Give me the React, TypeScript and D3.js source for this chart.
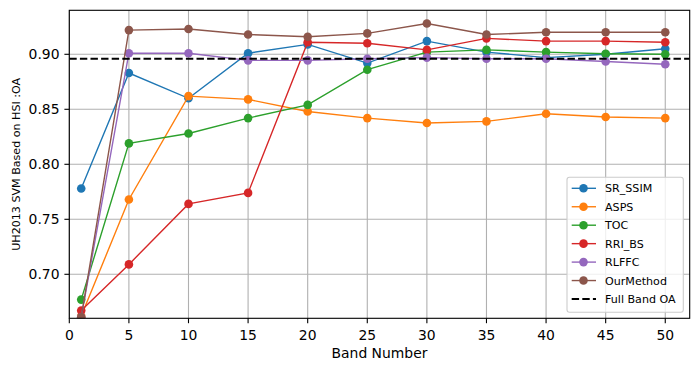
import React from "react";
import * as d3 from "d3";

const bands = [1, 5, 10, 15, 20, 25, 30, 35, 40, 45, 50];
const srSsim = [0.778, 0.883, 0.86, 0.901, 0.909, 0.892, 0.912, 0.902, 0.897, 0.9, 0.905];
const asps = [0.662, 0.768, 0.862, 0.859, 0.848, 0.842, 0.8375, 0.839, 0.846, 0.843, 0.842];
const toc = [0.677, 0.819, 0.828, 0.842, 0.854, 0.886, 0.902, 0.904, 0.902, 0.9005, 0.9];
const rriBs = [0.667, 0.709, 0.764, 0.774, 0.911, 0.91, 0.904, 0.9145, 0.912, 0.912, 0.911];
const rlffc = [0.661, 0.901, 0.901, 0.8945, 0.8945, 0.896, 0.897, 0.896, 0.896, 0.8935, 0.891];
const ourMethod = [0.661, 0.922, 0.923, 0.918, 0.916, 0.919, 0.928, 0.918, 0.92, 0.92, 0.92];
const fullBandOA = 0.896;

const seriesNames = ["SR_SSIM", "ASPS", "TOC", "RRI_BS", "RLFFC", "OurMethod"];
const seriesValues = [srSsim, asps, toc, rriBs, rlffc, ourMethod];
const colors = ["#1f77b4", "#ff7f0e", "#2ca02c", "#d62728", "#9467bd", "#8c564b"];

const xTicks = [0, 5, 10, 15, 20, 25, 30, 35, 40, 45, 50];
const yTicks = [0.7, 0.75, 0.8, 0.85, 0.9];

const W = 699;
const H = 371;
const left = 69.3;
const right = 689.7;
const top = 10.3;
const bottom = 318.3;
const font = "DejaVu Sans, sans-serif";

const App = () => {
  const x = d3.scaleLinear().domain([0, 52.05]).range([left, right]);
  const y = d3.scaleLinear().domain([0.66, 0.94]).range([bottom, top]);
  const line = d3
    .line<number>()
    .x((_, i) => x(bands[i]))
    .y((d) => y(d));

  // legend box
  const legX = 567;
  const legY = 177.3;
  const rowH = 18.45;
  const firstRow = 188.3;

  return (
    <svg
      width={W}
      height={H}
      style={{ position: "absolute", left: 0, top: 0, background: "#fff" }}
      fontFamily={font}
    >
      <defs>
        <clipPath id="plot">
          <rect x={left} y={top} width={right - left} height={bottom - top} />
        </clipPath>
      </defs>

      {/* grid */}
      <g stroke="#b0b0b0" strokeWidth={1.1}>
        {xTicks.map((t) => (
          <line key={"gx" + t} x1={x(t)} x2={x(t)} y1={top} y2={bottom} />
        ))}
        {yTicks.map((t) => (
          <line key={"gy" + t} x1={left} x2={right} y1={y(t)} y2={y(t)} />
        ))}
      </g>

      {/* series */}
      <g clipPath="url(#plot)">
        {seriesValues.map((vals, s) => (
          <g key={seriesNames[s]}>
            <path d={line(vals) ?? ""} fill="none" stroke={colors[s]} strokeWidth={1.4} />
            {vals.map((v, i) => (
              <circle key={i} cx={x(bands[i])} cy={y(v)} r={4.3} fill={colors[s]} />
            ))}
          </g>
        ))}
        <line
          x1={left}
          x2={right}
          y1={y(fullBandOA)}
          y2={y(fullBandOA)}
          stroke="#000"
          strokeWidth={2}
          strokeDasharray="7.4,3.2"
        />
      </g>

      {/* spines */}
      <rect
        x={left}
        y={top}
        width={right - left}
        height={bottom - top}
        fill="none"
        stroke="#000"
        strokeWidth={1.1}
      />

      {/* x axis */}
      <g>
        {xTicks.map((t) => (
          <g key={"xt" + t}>
            <line x1={x(t)} x2={x(t)} y1={bottom} y2={bottom + 4.9} stroke="#000" strokeWidth={1.1} />
            <text x={x(t)} y={339.5} fontSize={13.9} textAnchor="middle" fill="#000">
              {t}
            </text>
          </g>
        ))}
        <text x={(left + right) / 2} y={358} fontSize={13.9} textAnchor="middle" fill="#000">
          Band Number
        </text>
      </g>

      {/* y axis */}
      <g>
        {yTicks.map((t) => (
          <g key={"yt" + t}>
            <line x1={left - 4.9} x2={left} y1={y(t)} y2={y(t)} stroke="#000" strokeWidth={1.1} />
            <text
              x={59.5}
              y={y(t)}
              dy="0.36em"
              fontSize={13.9}
              textAnchor="end"
              fill="#000"
            >
              {d3.format(".2f")(t)}
            </text>
          </g>
        ))}
        <text
          transform={`translate(19.5,${(top + bottom) / 2}) rotate(-90)`}
          fontSize={11.1}
          textAnchor="middle"
          fill="#000"
        >
          UH2013 SVM Based on HSI :OA
        </text>
      </g>

      {/* legend */}
      <g>
        <rect
          x={legX}
          y={legY}
          width={116.3}
          height={135}
          rx={2.5}
          fill="#fff"
          fillOpacity={0.8}
          stroke="#cccccc"
          strokeWidth={1.1}
        />
        {seriesNames.map((name, s) => {
          const cy = firstRow + s * rowH;
          return (
            <g key={"leg" + name}>
              <line x1={571.7} x2={596} y1={cy} y2={cy} stroke={colors[s]} strokeWidth={1.4} />
              <circle cx={583.5} cy={cy} r={4.3} fill={colors[s]} />
              <text x={605} y={cy} dy="0.36em" fontSize={11.1} fill="#000">
                {name}
              </text>
            </g>
          );
        })}
        <line
          x1={571.7}
          x2={596}
          y1={firstRow + 6 * rowH}
          y2={firstRow + 6 * rowH}
          stroke="#000"
          strokeWidth={2}
          strokeDasharray="7.4,3.2"
        />
        <text x={605} y={firstRow + 6 * rowH} dy="0.36em" fontSize={11.1} fill="#000">
          Full Band OA
        </text>
      </g>
    </svg>
  );
};

export default App;
